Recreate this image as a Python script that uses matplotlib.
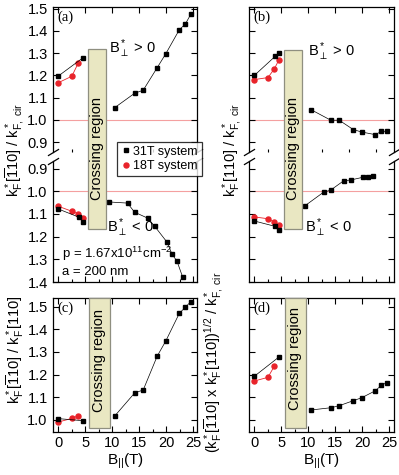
import numpy as np
import matplotlib.pyplot as plt
from matplotlib.patches import Rectangle

plt.rcParams['font.family'] = ['Liberation Sans', 'DejaVu Sans']
plt.rcParams['mathtext.fontset'] = 'custom'
plt.rcParams['mathtext.rm'] = 'Liberation Sans'
plt.rcParams['mathtext.it'] = 'Liberation Sans:italic'
plt.rcParams['mathtext.bf'] = 'Liberation Sans:bold'

# magnetic fields (T)
B31_low = [0, 3.9, 4.5]          # 31T system, below crossing region
B18_low = [0, 2.5, 3.7, 4.5]     # 18T system
B_pos = [10.45, 14.15, 15.7, 18.3, 19.85, 22.4, 23.5, 24.5]        # B* > 0, above crossing
B_neg = [9.4, 12.8, 14.1, 16.5, 17.85, 20.1, 21.05, 21.95, 23.0]   # B* < 0

# (a)  k*[-110]/k*cir
a_pos_31 = [1.197, 1.278]
a_pos_18 = [1.167, 1.196, 1.256]
a_pos_hi = [1.055, 1.12, 1.133, 1.235, 1.296, 1.406, 1.431, 1.475]
a_neg_31 = [1.078, 1.115, 1.134]
a_neg_18 = [1.066, 1.088, 1.099, 1.116]
a_neg_hi = [1.047, 1.052, 1.092, 1.118, 1.155, 1.224, 1.278, 1.308, 1.378]

# (b)  k*[110]/k*cir
b_pos_31 = [1.20, 1.287, 1.30]
b_pos_18 = [1.181, 1.19, 1.23, 1.268]
b_pos_hi = [1.046, 0.998, 0.998, 0.956, 0.945, 0.933, 0.948, 0.948]
b_neg_31 = [1.131, 1.155, 1.169]
b_neg_18 = [1.113, 1.121, 1.136, 1.150]
b_neg_hi = [1.063, 1.004, 0.995, 0.954, 0.950, 0.938, 0.935, 0.932]

# (c) ratio, (d) geometric mean
c_31 = [1.006, 0.997]
c_18 = [0.991, 1.007, 1.019]
c_hi = [1.018, 1.12, 1.132, 1.282, 1.347, 1.471, 1.497, 1.522]
d_31 = [1.193, 1.277]
d_18 = [1.172, 1.188, 1.238]
d_hi = [1.044, 1.054, 1.063, 1.085, 1.098, 1.129, 1.153, 1.165]

W, H = 399, 475
fig = plt.figure(figsize=(W / 100, H / 100), dpi=100)


def box(x0, y0, x1, y1):
    return [x0 / W, 1 - y1 / H, (x1 - x0) / W, (y1 - y0) / H]


ax_a1 = fig.add_axes(box(53.3, 6.5, 196.7, 152))
ax_a2 = fig.add_axes(box(53.3, 160.7, 196.7, 282))
ax_b1 = fig.add_axes(box(249.3, 6.5, 394.3, 152))
ax_b2 = fig.add_axes(box(249.3, 160.7, 394.3, 282))
ax_c = fig.add_axes(box(53.3, 298, 196.7, 432))
ax_d = fig.add_axes(box(249.3, 298, 394.3, 432))

RED = '#e8232a'
PINK = '#f4a0a0'


def series(ax, x31, y31, x18, y18, xh, yh, ref=True):
    if ref:
        ax.axhline(1.0, color=PINK, lw=0.8, zorder=1)
    ax.plot(x18, y18, '-o', color=RED, lw=0.6, ms=3.6, mec=RED, zorder=3)
    ax.plot(x31, y31, '-s', color='k', lw=0.5, ms=3.3, zorder=4)
    ax.plot(xh, yh, '-s', color='k', lw=0.5, ms=3.3, zorder=4)


series(ax_a1, B31_low[::2], a_pos_31, B18_low[:3], a_pos_18, B_pos, a_pos_hi)
series(ax_a2, B31_low, a_neg_31, B18_low, a_neg_18, B_neg, a_neg_hi)
series(ax_b1, B31_low, b_pos_31, B18_low, b_pos_18, B_pos, b_pos_hi)
series(ax_b2, B31_low, b_neg_31, B18_low, b_neg_18, B_neg[:8], b_neg_hi)
series(ax_c, B31_low[::2], c_31, B18_low[:3], c_18, B_pos, c_hi, ref=False)
series(ax_d, B31_low[::2], d_31, B18_low[:3], d_18, B_pos, d_hi, ref=False)

for ax in [ax_a1, ax_a2, ax_c]:
    ax.set_xlim(-0.93, 25.6)
for ax in [ax_b1, ax_b2, ax_d]:
    ax.set_xlim(-0.95, 25.9)

for ax in [ax_a1, ax_b1]:
    ax.set_ylim(0.855, 1.51)
    ax.set_yticks(np.arange(0.9, 1.51, 0.1))
    ax.spines['bottom'].set_visible(False)
    ax.tick_params(axis='x', bottom=False, top=True)
for ax in [ax_a2, ax_b2]:
    ax.set_ylim(1.4, 0.865)
    ax.set_yticks(np.arange(0.9, 1.41, 0.1))
    ax.spines['top'].set_visible(False)
    ax.tick_params(axis='x', bottom=True, top=False)
for ax in [ax_c, ax_d]:
    ax.set_ylim(0.947, 1.538)
    ax.set_yticks(np.arange(1.0, 1.51, 0.1))
    ax.tick_params(axis='x', bottom=True, top=True)

for ax in [ax_a1, ax_a2, ax_b1, ax_b2, ax_c, ax_d]:
    ax.set_xticks([0, 5, 10, 15, 20, 25])
    ax.set_xticks([2.5, 7.5, 12.5, 17.5, 22.5], minor=True)
    ax.tick_params(direction='in', which='both', left=True, right=True,
                   labelsize=10.5, width=0.8, pad=4)
    ax.tick_params(which='major', length=4)
    ax.tick_params(which='minor', length=2)
    ax.tick_params(axis='y', which='minor', left=False, right=False)
    ax.yaxis.set_major_formatter(plt.FormatStrFormatter('%.1f'))
    for s in ax.spines.values():
        s.set_linewidth(0.9)

for ax in [ax_a1, ax_a2, ax_b1, ax_b2]:
    ax.tick_params(axis='x', labelbottom=False, labeltop=False)
for ax in [ax_b1, ax_b2, ax_d]:
    ax.tick_params(axis='y', labelleft=False)

for ax in [ax_c, ax_d]:
    ax.tick_params(axis='x', pad=3)
    ax.set_xlabel(r'B$_{||}$(T)', fontsize=11, labelpad=1)

# break marks
kw = dict(marker=[(-1, -0.6), (1, 0.6)], markersize=8, linestyle='none',
          color='k', mec='k', mew=0.9, clip_on=False)
for ax in [ax_a1, ax_b1]:
    ax.plot([0, 1], [0, 0], transform=ax.transAxes, **kw)
for ax in [ax_a2, ax_b2]:
    ax.plot([0, 1], [1, 1], transform=ax.transAxes, **kw)

# panel labels
for ax, lab in [(ax_a1, '(a)'), (ax_b1, '(b)'), (ax_c, '(c)'), (ax_d, '(d)')]:
    ax.text(0.03, 0.975, lab, transform=ax.transAxes, ha='left', va='top',
            fontsize=10.5, family='Liberation Serif')

# crossing regions
inv = fig.transFigure.inverted()
FACE = '#e9e7c2'
EDGE = '#8f8f80'


def cross(ax_top, y_top, ax_bot, y_bot, x0, x1, y_text=None):
    p0 = inv.transform(ax_bot.transData.transform((x0, y_bot)))
    p1 = inv.transform(ax_top.transData.transform((x1, y_top)))
    fig.add_artist(Rectangle(p0, p1[0] - p0[0], p1[1] - p0[1],
                             transform=fig.transFigure, facecolor=FACE,
                             edgecolor=EDGE, lw=0.9, zorder=5))
    yc = (p0[1] + p1[1]) / 2 if y_text is None else y_text
    fig.text((p0[0] + p1[0]) / 2, yc, 'Crossing region', rotation=90,
             ha='center', va='center', fontsize=10.5, zorder=6)


cross(ax_a1, 1.32, ax_a2, 1.168, 5.4, 8.8, 1 - 148 / H)
cross(ax_b1, 1.315, ax_b2, 1.168, 5.5, 8.9, 1 - 148 / H)
cross(ax_c, 1.538, ax_c, 0.966, 5.6, 9.6, 1 - 360 / H)
cross(ax_d, 1.538, ax_d, 0.963, 5.6, 9.5, 1 - 358 / H)

# annotations
ax_a1.text(9.3, 1.318, r'B$^*_\perp$ > 0', fontsize=10.5, va='center', ha='left')
ax_b1.text(10.0, 1.305, r'B$^*_\perp$ > 0', fontsize=10.5, va='center', ha='left')
ax_a2.text(9.0, 1.162, r'B$^*_\perp$ < 0', fontsize=10.5, va='center', ha='left')
ax_b2.text(9.4, 1.162, r'B$^*_\perp$ < 0', fontsize=10.5, va='center', ha='left')
ax_a2.text(0.6, 1.277, r'p = 1.67x10$^{11}$cm$^{-2}$', fontsize=9.5, va='center')
ax_a2.text(0.6, 1.356, 'a = 200 nm', fontsize=9.5, va='center')

# legend
h31, = ax_a1.plot([], [], 's', color='k', ms=3.3)
h18, = ax_a1.plot([], [], 'o', color=RED, ms=3.6)
leg = fig.legend([h31, h18], ['31T system', '18T system'], loc='upper left',
                 bbox_to_anchor=(117 / W, 1 - 142 / H), fontsize=9,
                 frameon=True, fancybox=False, borderpad=0.3,
                 handletextpad=0.2, handlelength=0.8, labelspacing=0.2,
                 borderaxespad=0)
leg.get_frame().set_edgecolor('k')
leg.get_frame().set_linewidth(0.9)
leg.set_zorder(7)

# y labels
fig.text(15 / W, 1 - 150 / H, r'k$^*_\mathrm{F}$[$\overline{1}$10] / k$^*_\mathrm{F,\ cir}$',
         rotation=90, ha='center', va='center', fontsize=10.5)
fig.text(233 / W, 1 - 150 / H, r'k$^*_\mathrm{F}$[110] / k$^*_\mathrm{F,\ cir}$',
         rotation=90, ha='center', va='center', fontsize=10.5)
fig.text(15 / W, 1 - 350 / H, r'k$^*_\mathrm{F}$[$\overline{1}$10] / k$^*_\mathrm{F}$[110]',
         rotation=90, ha='center', va='center', fontsize=10.5)
fig.text(214 / W, 1 - 362 / H,
         r'(k$^*_\mathrm{F}$[$\overline{1}$10] x k$^*_\mathrm{F}$[110])$^{1/2}$ / k$^*_\mathrm{F,\ cir}$',
         rotation=90, ha='center', va='center', fontsize=10.5)

fig.savefig('out.png', dpi=100)
